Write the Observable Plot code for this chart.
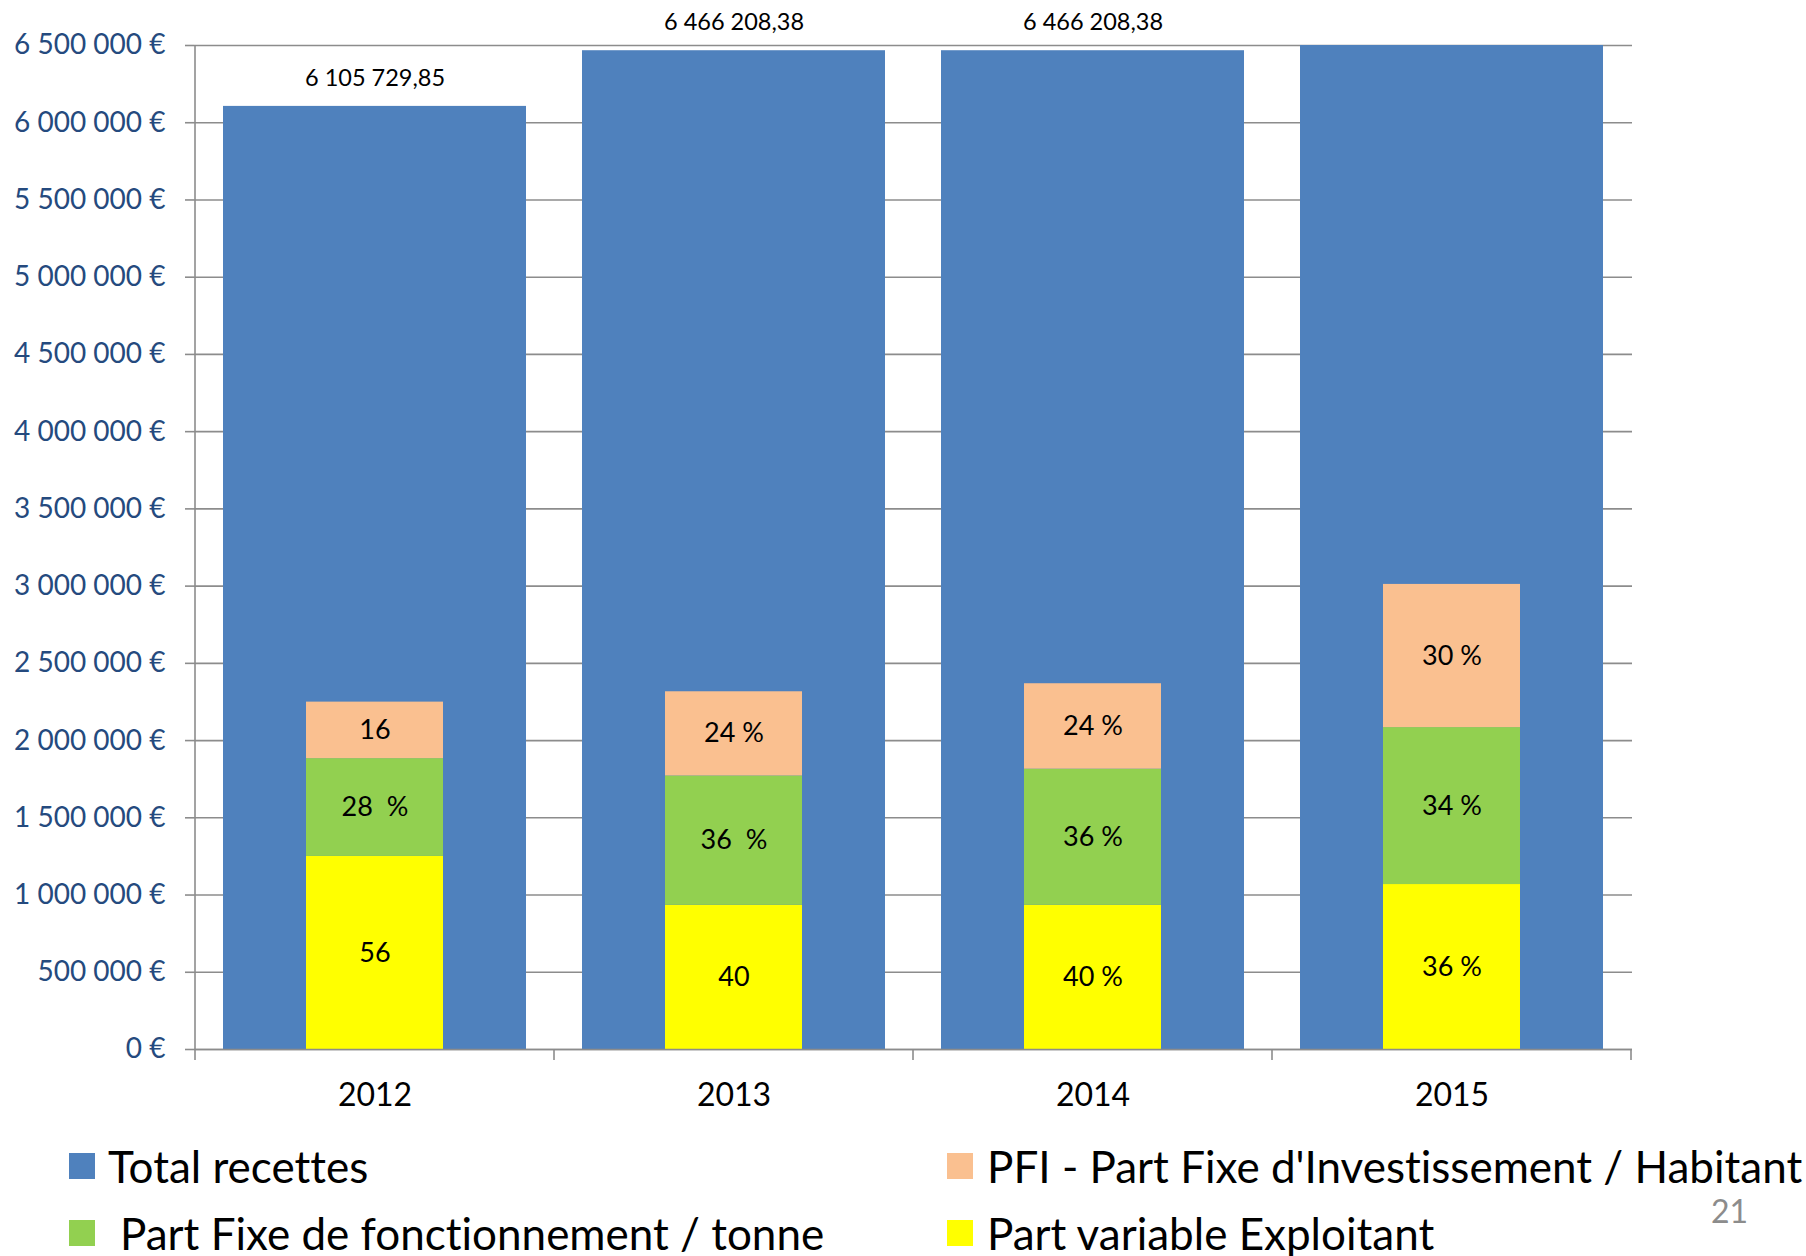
<!DOCTYPE html>
<html>
<head>
<meta charset="utf-8">
<script src="https://cdn.jsdelivr.net/npm/d3@7"></script>
<script src="https://cdn.jsdelivr.net/npm/@observablehq/plot@0.6"></script>
<style>
  html, body { margin: 0; padding: 0; background: #fff; }
  #wrap { width: 1806px; font-family: Lato, "Open Sans", sans-serif; font-variant-ligatures: none; }
  #legend { position: relative; width: 1806px; height: 126px; }
  .item { position: absolute; display: flex; align-items: center; font-size: 44px; line-height: 1; color: #000; white-space: nowrap; transform: translateY(-50%); }
  .sw { width: 26px; height: 26px; display: inline-block; }
  #page { position: absolute; left: 1711px; top: 81px; line-height: 1; transform: translateY(-50%); font-size: 32px; color: #8c8c8c; }
</style>
</head>
<body>
<div id="wrap">
  <div id="chart"></div>
  <div id="legend"></div>
</div>
<script>
// ---- data ----
const years = ["2012", "2013", "2014", "2015"];
const totalRecettes = [6105729.85, 6466208.38, 6466208.38, 6500000];
const partVariable = [1250000, 934000, 934000, 1068000];
const partFixeFonct = [633000, 837000, 881000, 1016000];
const pfi = [366000, 545000, 553000, 927000];
const labelsVariable = ["56", "40", "40 %", "36 %"];
const labelsFixeFonct = ["28  %", "36  %", "36 %", "34 %"];
const labelsPfi = ["16", "24 %", "24 %", "30 %"];
const seriesNames = [
  "Total recettes",
  "PFI - Part Fixe d'Investissement / Habitant",
  "Part Fixe de fonctionnement / tonne",
  "Part variable Exploitant"
];
const seriesColors = ["#4F81BD", "#FAC090", "#92D050", "#FFFF00"];
const yTicks = d3.range(0, 6500001, 500000);

// ---- tables ----
const totalRows = years.map((year, i) => ({year, value: totalRecettes[i]}));
const stackRows = [];
years.forEach((year, i) => {
  let base = 0;
  [[seriesNames[3], partVariable[i], labelsVariable[i]],
   [seriesNames[2], partFixeFonct[i], labelsFixeFonct[i]],
   [seriesNames[1], pfi[i], labelsPfi[i]]].forEach(([series, v, label]) => {
    stackRows.push({year, series, y1: base, y2: base + v, label});
    base += v;
  });
});

const frLocale = d3.formatLocale({decimal: ",", thousands: " ", grouping: [3], currency: ["", " €"]});
const fmtEuro = v => frLocale.format(",")(v) + " €";
const fmtTotal = frLocale.format(",.2f");
const yMax = yTicks[yTicks.length - 1];

const gridColor = "#8c8c8c";

const plot = Plot.plot({
  width: 1806,
  height: 1130,
  marginLeft: 194,
  marginRight: 174,
  marginTop: 45,
  marginBottom: 81,
  style: {fontFamily: "Lato, 'Open Sans', sans-serif", background: "#fff", overflow: "visible"},
  x: {domain: years, paddingInner: 0.156, paddingOuter: 0.078, label: null},
  y: {domain: [0, yMax], label: null},
  color: {domain: seriesNames, range: seriesColors},
  marks: [
    Plot.ruleY(yTicks, {stroke: gridColor, strokeWidth: 1.6}),
    Plot.axisY({ticks: yTicks, tickSize: 9, tickPadding: 20, tickFormat: fmtEuro, fontSize: 28,
      stroke: gridColor, strokeWidth: 1.6, fill: "#254a7e", label: null}),
    Plot.barY(totalRows, {x: "year", y: "value", fill: seriesColors[0]}),
    Plot.barY(stackRows, {x: "year", y1: "y1", y2: "y2", fill: "series", insetLeft: 83, insetRight: 83}),
    Plot.ruleY([0], {stroke: gridColor, strokeWidth: 1.6}),
    Plot.text(stackRows, {x: "year", y: d => (d.y1 + d.y2) / 2, text: "label", fontSize: 27, fill: "#000"}),
    // total of 2015 exceeds the visible axis range, its label is not shown
    Plot.text(totalRows.filter(d => d.value < yMax), {x: "year", y: "value", text: d => fmtTotal(d.value),
      dy: -28, fontSize: 23.5, fill: "#000"}),
    Plot.axisX({tickSize: 0, tickPadding: 34, fontSize: 32, fill: "#000", label: null})
  ]
});
document.getElementById("chart").appendChild(plot);

// vertical axis line and category boundary ticks, from the plot's own scales
const xs = plot.scale("x"), ys = plot.scale("y");
const svg = d3.select(plot);
const y0 = ys.apply(0), yTop = ys.apply(yMax);
const bounds = years.map(d => xs.apply(d) + xs.bandwidth / 2 - xs.step / 2);
bounds.push(xs.apply(years[years.length - 1]) + xs.bandwidth / 2 + xs.step / 2);
const g = svg.append("g").attr("stroke", gridColor).attr("stroke-width", 1.6);
g.append("line").attr("x1", bounds[0]).attr("x2", bounds[0]).attr("y1", yTop).attr("y2", y0);
bounds.forEach(b => g.append("line").attr("x1", b).attr("x2", b).attr("y1", y0).attr("y2", y0 + 11));

// legend
const legend = document.getElementById("legend");
const items = [
  {i: 0, left: 69, top: 36, gap: 13},
  {i: 1, left: 947, top: 36, gap: 14},
  {i: 2, left: 69, top: 103, gap: 25},
  {i: 3, left: 947, top: 103, gap: 14}
];
items.forEach(({i, left, top, gap}) => {
  const el = document.createElement("div");
  el.className = "item";
  el.style.left = left + "px";
  el.style.top = top + "px";
  el.innerHTML = `<span class="sw" style="background:${seriesColors[i]};margin-right:${gap}px"></span><span>${seriesNames[i]}</span>`;
  legend.appendChild(el);
});
const page = document.createElement("div");
page.id = "page";
page.textContent = "21";
legend.appendChild(page);
</script>
</body>
</html>
